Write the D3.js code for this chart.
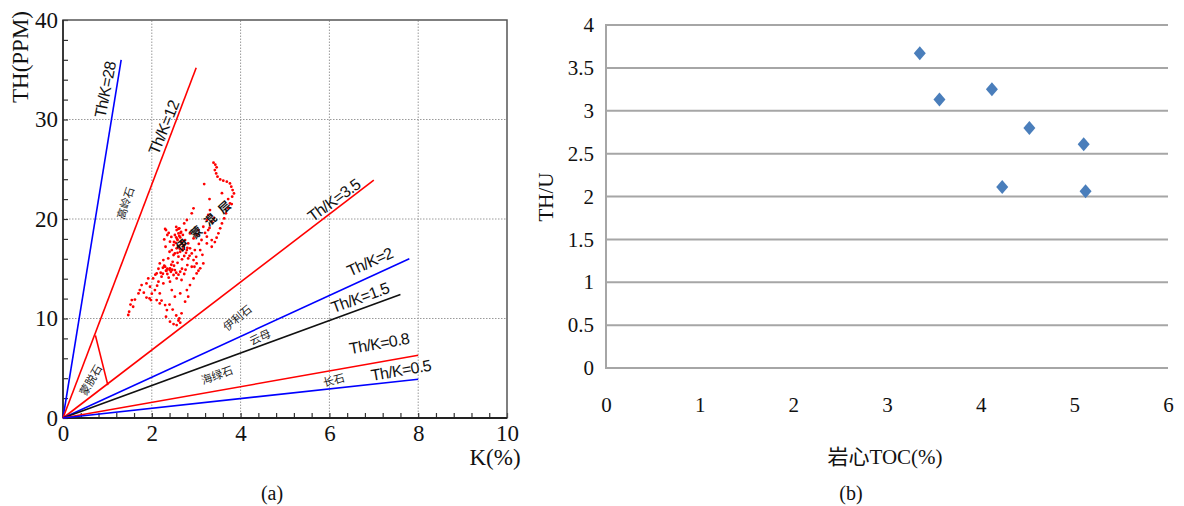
<!DOCTYPE html>
<html>
<head>
<meta charset="utf-8">
<script src="https://cdn.jsdelivr.net/npm/d3@7"></script>
<style>
  body { margin: 0; background: #fff; }
  svg { display: block; }
</style>
</head>
<body>
<div id="chart"></div>
<script>
// ---- data: panel (a), Th-K crossplot ----
let ratioNames = ['Th/K=28', 'Th/K=12', 'Th/K=3.5', 'Th/K=2', 'Th/K=1.5', 'Th/K=0.8', 'Th/K=0.5'];
let lineEndK  = [1.31, 3.0, 7.0, 7.8, 7.6, 8.0, 8.0];
let lineEndTh = [36.0, 35.2, 23.9, 16.0, 12.4, 6.3, 3.9];
let lineColors = ['#0000ff', '#ff0000', '#ff0000', '#0000ff', '#111111', '#ff0000', '#0000ff'];

// montmorillonite closing segment
let montK  = [0.73, 1.01];
let montTh = [8.3, 3.3];

// measured points (K %, Th ppm)
let cloudK = [
  3.39, 3.43, 3.46, 3.42, 3.45, 3.48, 3.54, 3.61, 3.69, 3.76, 3.79, 3.82, 3.85, 3.81, 3.18,
  3.76, 3.72, 3.67, 3.63, 3.58, 3.54, 3.50, 3.46, 3.42,
  3.31, 3.27, 3.24, 3.35, 3.16, 3.27, 3.05, 3.01, 3.12, 3.24, 3.35, 3.09, 2.97, 2.94, 2.90, 2.79, 2.73,
  2.56, 2.60, 2.52, 2.64, 2.58, 2.67, 2.75, 2.82, 2.71, 2.79, 2.86, 2.90, 2.64, 2.56, 2.49, 2.73, 2.82, 2.94, 3.01, 2.90, 2.80,
  2.32, 2.35, 2.28, 2.41, 2.31, 2.40, 2.49, 2.37, 2.26, 2.18, 2.30, 2.41, 2.52, 2.64, 2.73, 2.49, 2.35, 2.22, 2.11, 2.03, 2.15, 2.26, 2.41, 2.56, 2.67,
  1.92, 1.88, 1.96, 2.07, 2.18, 1.77, 1.73, 1.70, 1.95, 1.98, 2.11, 2.18, 1.55, 1.58, 1.49, 1.47, 2.30, 2.34, 2.32,
  2.41, 2.49, 2.56, 2.64, 2.62, 2.67,
  2.79, 2.82, 2.75, 2.86, 2.94, 3.01, 3.09, 3.16, 2.64, 2.52, 2.45,
  2.52, 2.60, 2.45, 2.65, 2.55, 2.62, 2.77, 2.86, 2.94, 3.24, 3.35,
  2.54, 2.62, 2.70, 2.47, 2.58, 2.68, 2.40, 2.44, 2.33, 2.25, 2.20, 2.12,
  2.55, 2.60, 2.66, 2.70, 2.62, 2.57, 2.68, 2.74, 2.80, 2.63, 2.70, 2.58, 2.77, 2.85, 2.50, 2.44, 2.38, 2.30,
  2.28, 2.35, 2.43, 2.55, 2.60, 2.38, 2.46, 2.32, 2.25, 2.50, 2.68, 2.76, 2.15, 2.08,
  3.40, 3.30, 3.20, 3.06, 3.14, 3.00, 2.96, 3.05,
  1.82, 1.88, 2.00, 1.62, 1.52, 2.22, 2.40, 2.47, 2.55, 2.60,
  3.72, 3.80, 3.58, 3.30
];
let cloudTh = [
  25.66, 25.46, 25.19, 24.92, 24.58, 24.25, 23.98, 23.85, 23.75, 23.58, 23.25, 22.91, 22.57, 22.24, 23.51,
  21.57, 21.07, 20.57, 20.06, 19.56, 19.06, 18.56, 18.12, 17.68,
  20.90, 20.40, 19.90, 19.73, 19.22, 18.89, 18.89, 18.39, 17.89, 17.55, 17.21, 16.88, 16.88, 21.07, 20.57, 19.90, 19.56,
  18.89, 18.55, 18.39, 18.15, 17.88, 17.72, 17.88, 17.55, 17.21, 16.88, 17.05, 16.54, 16.71, 17.05, 17.38, 16.28, 16.04, 15.87, 15.54, 15.20, 15.37,
  18.89, 18.39, 17.95, 17.72, 17.21, 16.71, 16.38, 16.04, 15.87, 15.54, 15.20, 15.04, 14.87, 14.70, 14.47, 14.37, 14.47, 14.20, 14.53, 14.03, 13.70, 13.53, 13.70, 14.03, 13.87,
  14.03, 13.53, 13.19, 12.86, 12.52, 13.36, 12.86, 12.52, 12.02, 11.85, 11.85, 11.52, 11.85, 11.18, 10.68, 10.35, 11.35, 10.85, 10.18,
  9.68, 9.44, 9.34, 9.58, 10.01, 10.52,
  12.86, 12.19, 11.69, 13.36, 14.03, 14.53, 15.04, 15.54, 12.52, 12.19, 12.86,
  16.54, 16.21, 16.88, 18.62, 18.15, 19.06, 18.89, 18.55, 18.05, 18.22, 17.88,
  17.60, 17.30, 16.95, 15.70, 15.60, 15.95, 14.90, 15.40, 14.80, 15.10, 14.60, 13.30,
  19.2, 19.0, 18.7, 18.4, 18.3, 18.0, 17.5, 17.4, 17.1, 17.0, 16.9, 16.6, 16.6, 16.3, 17.7, 18.2, 18.6, 19.0,
  15.3, 15.0, 14.7, 14.6, 14.4, 14.1, 14.9, 14.8, 14.5, 15.3, 15.0, 14.9, 15.0, 14.4,
  20.1, 19.1, 18.6, 17.5, 16.4, 16.2, 15.2, 14.8,
  12.6, 12.1, 12.5, 11.9, 11.4, 11.8, 11.4, 10.9, 10.3, 9.8,
  22.0, 21.5, 22.6, 22.0
];

let kTicks = [0, 2, 4, 6, 8, 10];
let thTicks = [0, 10, 20, 30, 40];

// mineral zone names
let mineralNames = ['高岭石', '蒙脱石', '伊利石', '云母', '海绿石', '长石'];
let cloudName = '伊蒙混层';

// ---- data: panel (b), TH/U vs core TOC ----
let tocValues = [3.35, 3.56, 4.12, 4.52, 4.23, 5.10, 5.12];
let thuValues = [3.67, 3.13, 3.25, 2.80, 2.11, 2.61, 2.06];
let tocTicks = [0, 1, 2, 3, 4, 5, 6];
let thuTicks = [0, 0.5, 1, 1.5, 2, 2.5, 3, 3.5, 4];

let svg = d3.select('#chart').append('svg')
  .attr('width', 1184)
  .attr('height', 506);

let serif = '"Liberation Serif", "Times New Roman", serif';
let sans = '"Liberation Sans", Arial, sans-serif';
let cjk = '"Noto Sans CJK SC", sans-serif';

// ================= panel (a) =================
let xA = d3.scaleLinear().domain([0, 10]).range([63, 507]);
let yA = d3.scaleLinear().domain([0, 40]).range([418, 20]);

let gA = svg.append('g');

// dotted grid
gA.selectAll('.vgrid').data([2, 4, 6, 8]).enter().append('line')
  .attr('x1', d => xA(d)).attr('x2', d => xA(d))
  .attr('y1', yA(0)).attr('y2', yA(40))
  .attr('stroke', '#9a9a9a').attr('stroke-width', 1).attr('stroke-dasharray', '1.5,1.5');
gA.selectAll('.hgrid').data([10, 20, 30]).enter().append('line')
  .attr('x1', xA(0)).attr('x2', xA(10))
  .attr('y1', d => yA(d)).attr('y2', d => yA(d))
  .attr('stroke', '#9a9a9a').attr('stroke-width', 1).attr('stroke-dasharray', '1.5,1.5');

// minor ticks (inward)
let xTickAxis = gA.append('g')
  .attr('transform', `translate(0, ${yA(0)})`)
  .call(d3.axisBottom(xA).tickValues(d3.range(0, 10.01, 0.4)).tickSize(-5).tickFormat(''));
let yTickAxis = gA.append('g')
  .attr('transform', `translate(${xA(0)}, 0)`)
  .call(d3.axisLeft(yA).tickValues(d3.range(0, 40.01, 2)).tickSize(-5).tickFormat(''));
[xTickAxis, yTickAxis].forEach(a => {
  a.select('.domain').remove();
  a.selectAll('line').attr('stroke', '#333').attr('stroke-width', 1.2);
});

// frame
gA.append('rect')
  .attr('x', xA(0)).attr('y', yA(40))
  .attr('width', xA(10) - xA(0)).attr('height', yA(0) - yA(40))
  .attr('fill', 'none').attr('stroke', '#555').attr('stroke-width', 1.5);
gA.append('line')
  .attr('x1', xA(0)).attr('x2', xA(10)).attr('y1', yA(0)).attr('y2', yA(0))
  .attr('stroke', '#222').attr('stroke-width', 2);
gA.append('line')
  .attr('x1', xA(0)).attr('x2', xA(0)).attr('y1', yA(0)).attr('y2', yA(40))
  .attr('stroke', '#222').attr('stroke-width', 1.5);

// tick labels
let xLab = gA.append('g')
  .attr('transform', `translate(0, ${yA(0)})`)
  .call(d3.axisBottom(xA).tickValues(kTicks).tickSize(0).tickPadding(7));
let yLab = gA.append('g')
  .attr('transform', `translate(${xA(0)}, 0)`)
  .call(d3.axisLeft(yA).tickValues(thTicks).tickSize(0).tickPadding(5));
[xLab, yLab].forEach(a => {
  a.select('.domain').remove();
  a.selectAll('text').attr('font-family', serif).attr('font-size', 23).attr('fill', '#111');
});

// ratio lines
let lineA = d3.line().x(d => xA(d[0])).y(d => yA(d[1]));
ratioNames.forEach((name, i) => {
  gA.append('path')
    .attr('d', lineA([[0, 0], [lineEndK[i], lineEndTh[i]]]))
    .attr('stroke', lineColors[i]).attr('stroke-width', 1.6).attr('fill', 'none');
});
gA.append('path')
  .attr('d', lineA([[montK[0], montTh[0]], [montK[1], montTh[1]]]))
  .attr('stroke', '#ff0000').attr('stroke-width', 1.6).attr('fill', 'none');

// measured points
gA.selectAll('.pt').data(cloudK).enter().append('circle')
  .attr('cx', (d, i) => xA(d))
  .attr('cy', (d, i) => yA(cloudTh[i]))
  .attr('r', 1.4)
  .attr('fill', '#ff0000');

// annotations (position in K/Th units, rotation in degrees)
let ratioLabelPos = [
  [0.95, 33.0, -79], [2.27, 29.2, -68], [6.10, 21.9, -36], [6.91, 15.7, -24],
  [6.69, 12.1, -20], [7.12, 7.5, -10], [7.61, 4.8, -10]
];
ratioNames.forEach((name, i) => {
  let p = ratioLabelPos[i];
  gA.append('text')
    .attr('transform', `translate(${xA(p[0])}, ${yA(p[1])}) rotate(${p[2]})`)
    .attr('text-anchor', 'middle').attr('dy', '0.35em')
    .attr('font-family', sans).attr('font-size', 16).attr('fill', '#111')
    .attr('letter-spacing', -0.6)
    .text(name);
});

let mineralPos = [
  [1.41, 21.6, -72], [0.63, 3.8, -60], [3.93, 10.05, -40],
  [4.44, 8.1, -25], [3.47, 4.3, -20], [6.10, 3.8, -15]
];
mineralNames.forEach((name, i) => {
  let p = mineralPos[i];
  gA.append('text')
    .attr('transform', `translate(${xA(p[0])}, ${yA(p[1])}) rotate(${p[2]})`)
    .attr('text-anchor', 'middle').attr('dy', '0.35em')
    .attr('font-family', cjk).attr('font-size', 11).attr('fill', '#222')
    .text(name);
});

gA.append('text')
  .attr('transform', `translate(${xA(3.22)}, ${yA(19.5)}) rotate(-42)`)
  .attr('text-anchor', 'middle').attr('dy', '0.35em')
  .attr('font-family', cjk).attr('font-size', 12).attr('font-weight', 'bold')
  .attr('letter-spacing', 7).attr('fill', '#111')
  .text(cloudName);

// axis titles
gA.append('text')
  .attr('transform', 'translate(20, 57) rotate(-90)')
  .attr('text-anchor', 'middle').attr('dy', '0.35em')
  .attr('font-family', serif).attr('font-size', 23).attr('fill', '#111')
  .text('TH(PPM)');
gA.append('text')
  .attr('x', 495).attr('y', 457).attr('dy', '0.35em')
  .attr('text-anchor', 'middle')
  .attr('font-family', serif).attr('font-size', 23).attr('fill', '#111')
  .text('K(%)');
gA.append('text')
  .attr('x', 272).attr('y', 493).attr('dy', '0.35em')
  .attr('text-anchor', 'middle')
  .attr('font-family', serif).attr('font-size', 20).attr('fill', '#111')
  .text('(a)');

// ================= panel (b) =================
let xB = d3.scaleLinear().domain([0, 6]).range([606, 1168]);
let yB = d3.scaleLinear().domain([0, 4]).range([368, 25]);

let gB = svg.append('g');

gB.selectAll('.grid').data(thuTicks).enter().append('line')
  .attr('x1', xB(0)).attr('x2', xB(6))
  .attr('y1', d => yB(d)).attr('y2', d => yB(d))
  .attr('stroke', '#a6a6a6').attr('stroke-width', 2);
gB.append('line')
  .attr('x1', xB(0)).attr('x2', xB(0)).attr('y1', yB(0) + 1).attr('y2', yB(4) - 1)
  .attr('stroke', '#a6a6a6').attr('stroke-width', 2);

let yAxisB = gB.append('g')
  .attr('transform', `translate(${xB(0) - 12}, 0)`)
  .call(d3.axisLeft(yB).tickValues(thuTicks).tickSize(0).tickPadding(0).tickFormat(d3.format('')));
let xAxisB = gB.append('g')
  .attr('transform', `translate(0, 405)`)
  .call(d3.axisBottom(xB).tickValues(tocTicks).tickSize(0).tickPadding(0).tickFormat(d3.format('d')));
[yAxisB, xAxisB].forEach(a => {
  a.select('.domain').remove();
  a.selectAll('text').attr('font-family', serif).attr('font-size', 21).attr('fill', '#111');
});
xAxisB.selectAll('text').attr('dy', '0.35em');

gB.selectAll('.diamond').data(tocValues).enter().append('path')
  .attr('d', 'M0,-7L6,0L0,7L-6,0Z')
  .attr('transform', (d, i) => `translate(${xB(d)}, ${yB(thuValues[i])})`)
  .attr('fill', '#4a7ebb');

gB.append('text')
  .attr('transform', 'translate(546, 197) rotate(-90)')
  .attr('text-anchor', 'middle').attr('dy', '0.35em')
  .attr('font-family', serif).attr('font-size', 21).attr('fill', '#111')
  .text('TH/U');
gB.append('text')
  .attr('x', 885).attr('y', 457).attr('dy', '0.35em')
  .attr('text-anchor', 'middle')
  .attr('font-family', serif + ', ' + cjk).attr('font-size', 21).attr('fill', '#111')
  .text('岩心TOC(%)');
gB.append('text')
  .attr('x', 851).attr('y', 493).attr('dy', '0.35em')
  .attr('text-anchor', 'middle')
  .attr('font-family', serif).attr('font-size', 20).attr('fill', '#111')
  .text('(b)');
</script>
</body>
</html>
